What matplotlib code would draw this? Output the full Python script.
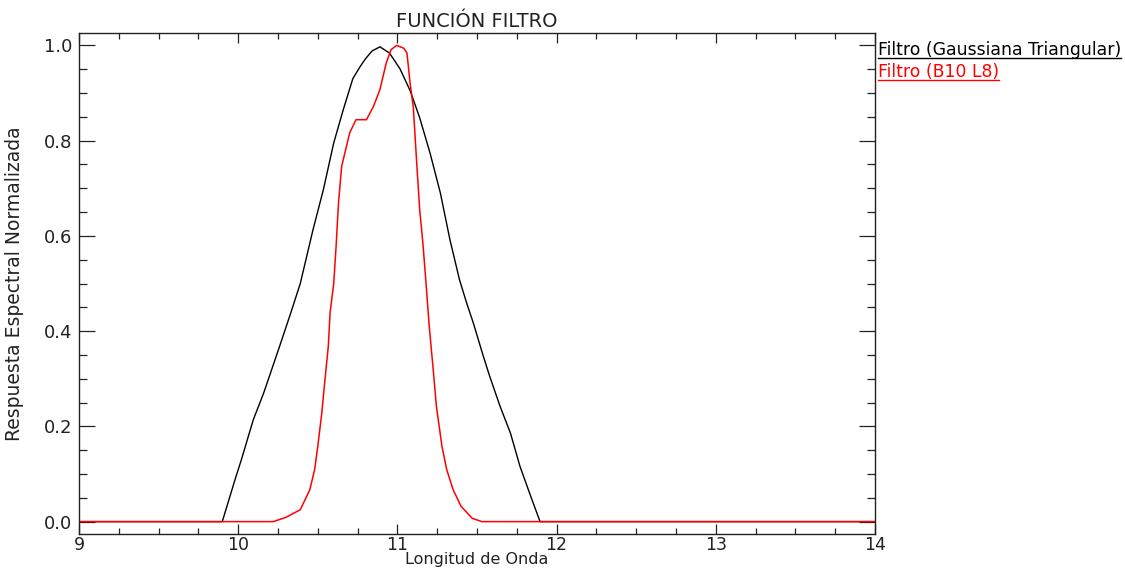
import matplotlib
matplotlib.use("Agg")
import matplotlib.pyplot as plt
from matplotlib.lines import Line2D
from matplotlib.ticker import MultipleLocator, FormatStrFormatter

# Filtro (Gaussiana Triangular)
wl_gauss = [9.0, 9.88, 9.90, 9.98, 10.02, 10.095, 10.16, 10.21, 10.26, 10.33, 10.39,
            10.47, 10.535, 10.60, 10.66, 10.72, 10.765, 10.80, 10.84, 10.89, 10.95, 11.016,
            11.08, 11.14, 11.205, 11.27, 11.33, 11.39, 11.435, 11.477, 11.54, 11.58,
            11.645, 11.71, 11.77, 11.83, 11.896, 14.0]
resp_gauss = [0, 0, 0, 0.088, 0.13, 0.214, 0.27, 0.319, 0.368, 0.438, 0.50,
              0.613, 0.697, 0.795, 0.865, 0.930, 0.955, 0.972, 0.988, 0.997, 0.984, 0.951,
              0.905, 0.848, 0.774, 0.69, 0.592, 0.508, 0.459, 0.417, 0.347, 0.305,
              0.242, 0.186, 0.116, 0.06, 0, 0]

# Filtro (B10 L8)
wl_b10 = [9.0, 10.22, 10.30, 10.39, 10.45, 10.48, 10.50, 10.525, 10.545, 10.566, 10.577,
          10.60, 10.615, 10.63, 10.65, 10.68, 10.70, 10.74, 10.806, 10.85, 10.89, 10.93,
          10.96, 10.996, 11.04, 11.06, 11.08, 11.10, 11.12, 11.14, 11.16, 11.18, 11.20,
          11.225, 11.245, 11.28, 11.31, 11.35, 11.40, 11.47, 11.53, 14.0]
resp_b10 = [0, 0, 0.009, 0.025, 0.067, 0.109, 0.158, 0.228, 0.298, 0.368, 0.438,
            0.50, 0.578, 0.669, 0.746, 0.788, 0.816, 0.844, 0.844, 0.872, 0.907, 0.963,
            0.991, 1.0, 0.994, 0.984, 0.92, 0.87, 0.76, 0.655, 0.585, 0.50, 0.41,
            0.319, 0.242, 0.158, 0.109, 0.067, 0.032, 0.007, 0, 0]

labels = ["Filtro (Gaussiana Triangular)", "Filtro (B10 L8)"]
colors = ["black", "red"]

plt.rcParams["font.family"] = "DejaVu Sans"
fig = plt.figure(figsize=(11.25, 5.71), dpi=100)
ax = fig.add_axes([0.0702, 0.0648, 0.7076, 0.8774])

ax.plot(wl_gauss, resp_gauss, color=colors[0], lw=1.0)
ax.plot(wl_b10, resp_b10, color=colors[1], lw=1.1)

ax.set_xlim(9, 14)
ax.set_ylim(-0.026, 1.026)
ax.xaxis.set_major_locator(MultipleLocator(1))
ax.xaxis.set_minor_locator(MultipleLocator(0.25))
ax.yaxis.set_major_locator(MultipleLocator(0.2))
ax.yaxis.set_minor_locator(MultipleLocator(0.05))
ax.xaxis.set_major_formatter(FormatStrFormatter("%d"))
ax.yaxis.set_major_formatter(FormatStrFormatter("%.1f"))

ax.tick_params(axis="both", which="both", direction="in", top=True, right=True,
               width=0.9, colors="#222222", labelsize=13)
ax.tick_params(axis="x", which="major", length=7.5, pad=1.5, labelsize=12.5)
ax.tick_params(axis="x", which="minor", length=4.2)
ax.tick_params(axis="y", which="major", length=11.5, pad=5)
ax.tick_params(axis="y", which="minor", length=5.8)
for s in ax.spines.values():
    s.set_linewidth(1.0)
    s.set_color("#222222")

ax.set_title("FUNCIÓN FILTRO", fontsize=14, pad=4, color="#222222")
ax.set_xlabel("Longitud de Onda", fontsize=11.5, color="#222222")
ax.set_ylabel("Respuesta Espectral Normalizada", fontsize=13.5, color="#222222")
ax.xaxis.set_label_coords(0.5, -0.036)
ax.yaxis.set_label_coords(-0.069, 0.5)

# legend to the right, underlined like IDL
ys = [0.9124, 0.8739]
texts = []
for lab, col, yy in zip(labels, colors, ys):
    t = fig.text(0.7804, yy, lab, color=col, fontsize=12.4, va="center", ha="left")
    texts.append(t)

fig.canvas.draw()
r = fig.canvas.get_renderer()
for t, col in zip(texts, colors):
    bb = t.get_window_extent(r).transformed(fig.transFigure.inverted())
    fig.add_artist(Line2D([bb.x0, bb.x1], [bb.y0 + 0.002, bb.y0 + 0.002],
                          transform=fig.transFigure, color=col, lw=1.0))

fig.savefig("out.png", dpi=100)
